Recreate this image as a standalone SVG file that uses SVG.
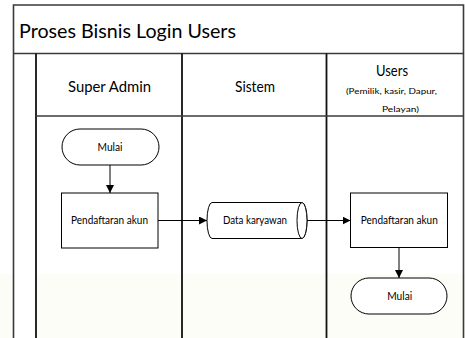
<svg xmlns="http://www.w3.org/2000/svg" width="465" height="338" viewBox="0 0 465 338">
  <defs>
    <marker id="arrow" viewBox="0 0 8 8" refX="8" refY="4" markerWidth="8" markerHeight="8" markerUnits="userSpaceOnUse" orient="auto">
      <path d="M0,0 L8,4 L0,8 Z" fill="#000"/>
    </marker>
  </defs>
  <style>
    .frame { fill: none; stroke: #3a3a3a; stroke-width: 1.6; }
    .lane { fill: none; stroke: #111; stroke-width: 1.8; }
    .shape { fill: #fff; stroke: #000; stroke-width: 1; }
    .conn { fill: none; stroke: #000; stroke-width: 1; marker-end: url(#arrow); }
    text { font-family: Lato, "Open Sans", "Liberation Sans", sans-serif; fill: #000; text-anchor: middle; }
    .title { font-size: 20px; text-anchor: start; }
    .head { font-size: 15px; }
    .sub { font-size: 8px; }
    .lbl { font-size: 10.5px; }
  </style>
  <rect x="0" y="0" width="465" height="338" fill="#fff"/>
  <rect x="0" y="274" width="465" height="64" fill="#fdfdf7"/>
  <rect x="14" y="274" width="22" height="64" fill="#fff"/>

  <g id="pool">
    <path class="frame" d="M13.5,338 V5 H463.5 V338"/>
    <line class="frame" x1="13.5" y1="53.5" x2="463.5" y2="53.5"/>
    <text class="title" x="19" y="38" textLength="217" lengthAdjust="spacingAndGlyphs">Proses Bisnis Login Users</text>
  </g>

  <g id="lanes">
    <line class="lane" x1="36" y1="53.5" x2="36" y2="338"/>
    <line class="lane" x1="182" y1="53.5" x2="182" y2="338"/>
    <line class="lane" x1="326.5" y1="53.5" x2="326.5" y2="338"/>
    <line class="frame" x1="36" y1="116" x2="463.5" y2="116"/>
  </g>

  <g id="lane-super-admin">
    <text class="head" x="109.5" y="91.5" textLength="83" lengthAdjust="spacingAndGlyphs">Super Admin</text>
  </g>
  <g id="lane-sistem">
    <text class="head" x="255" y="91.5" textLength="40" lengthAdjust="spacingAndGlyphs">Sistem</text>
  </g>
  <g id="lane-users">
    <text class="head" x="392" y="76" textLength="32" lengthAdjust="spacingAndGlyphs">Users</text>
    <text class="sub" x="391.5" y="94" textLength="91" lengthAdjust="spacingAndGlyphs">(Pemilik, kasir, Dapur,</text>
    <text class="sub" x="400.5" y="112" textLength="37" lengthAdjust="spacingAndGlyphs">Pelayan)</text>
  </g>

  <g id="connectors">
    <line class="conn" x1="110" y1="165" x2="110" y2="193"/>
    <line class="conn" x1="158" y1="220.5" x2="207" y2="220.5"/>
    <line class="conn" x1="307" y1="220.5" x2="350.5" y2="220.5"/>
    <line class="conn" x1="399" y1="247.5" x2="399" y2="278"/>
  </g>

  <g id="start-admin">
    <rect class="shape" x="62" y="129" width="97" height="36" rx="18" ry="18"/>
    <text class="lbl" x="110" y="151" textLength="25" lengthAdjust="spacingAndGlyphs">Mulai</text>
  </g>

  <g id="register-admin">
    <rect class="shape" x="61.5" y="193" width="96.5" height="55"/>
    <text class="lbl" x="109.5" y="224" textLength="77" lengthAdjust="spacingAndGlyphs">Pendaftaran akun</text>
  </g>

  <g id="data-karyawan">
    <path class="shape" d="M212,202.5 H302 A5,18 0 0 1 302,238.5 H212 A5,18 0 0 1 212,202.5 Z"/>
    <ellipse class="shape" cx="302" cy="220.5" rx="5" ry="18" fill="none"/>
    <text class="lbl" x="255" y="224" textLength="64" lengthAdjust="spacingAndGlyphs">Data karyawan</text>
  </g>

  <g id="register-users">
    <rect class="shape" x="350.5" y="193" width="97" height="54.5"/>
    <text class="lbl" x="399.3" y="224" textLength="77" lengthAdjust="spacingAndGlyphs">Pendaftaran akun</text>
  </g>

  <g id="start-users">
    <rect class="shape" x="351" y="278" width="96" height="36" rx="18" ry="18"/>
    <text class="lbl" x="399.7" y="300" textLength="25" lengthAdjust="spacingAndGlyphs">Mulai</text>
  </g>
</svg>
